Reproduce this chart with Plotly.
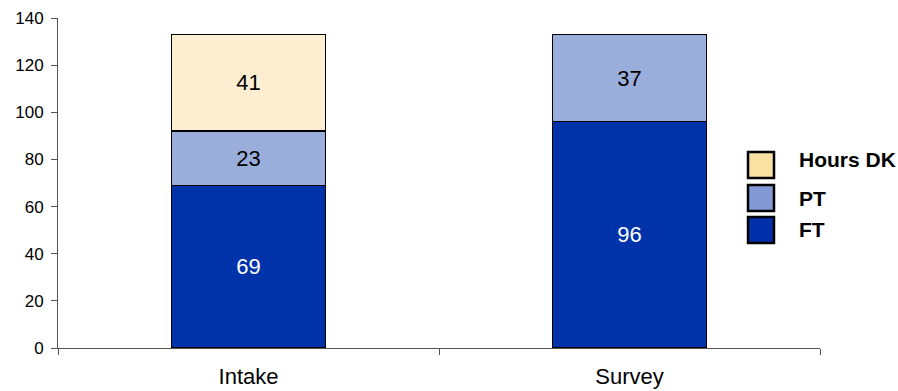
import plotly.graph_objects as go

# Work status counts by source
categories = ["Intake", "Survey"]
ft_values = [69, 96]
pt_values = [23, 37]
hours_dk_values = [41, None]

series = [
    ("FT", ft_values, "#0033aa", "#0030a9", "white"),
    ("PT", pt_values, "#9aaedc", "#8299d6", "black"),
    ("Hours DK", hours_dk_values, "#fdeed2", "#f9e0a3", "black"),
]

FONT = "Liberation Sans, Arial, sans-serif"

# plot area in pixels
L, R, T, B = 58, 820, 18, 348


def px_x(x):
    return (x - L) / (R - L)


def px_y(y):
    return (B - y) / (B - T)


fig = go.Figure()
for name, vals, color, _, txtcolor in series:
    fig.add_trace(go.Bar(
        x=categories,
        y=vals,
        name=name,
        marker=dict(color=color, line=dict(color="black", width=1.5)),
        text=[("" if v is None else str(v)) for v in vals],
        textposition="inside",
        insidetextanchor="middle",
        textfont=dict(family=FONT, size=22, color=txtcolor),
        showlegend=False,
        hoverinfo="skip",
    ))

# Legend drawn as swatches + bold labels, top entry is Hours DK
swatch_tops = [152, 185, 217]
label_centers = [159, 198, 230]
for (name, _, _, swatch, _), y0, yc in zip(reversed(series), swatch_tops, label_centers):
    fig.add_shape(
        type="rect", xref="paper", yref="paper",
        x0=px_x(748), x1=px_x(774),
        y0=px_y(y0 + 26), y1=px_y(y0),
        fillcolor=swatch, line=dict(color="black", width=2.5),
    )
    fig.add_annotation(
        xref="paper", yref="paper",
        x=px_x(797), y=px_y(yc),
        xanchor="left", yanchor="middle",
        text=f"<b>{name}</b>", showarrow=False,
        font=dict(family=FONT, size=21, color="black"),
    )

fig.update_layout(
    barmode="stack",
    bargap=0.596,
    width=898, height=391,
    margin=dict(l=L, r=898 - R, t=T, b=391 - B, autoexpand=False),
    paper_bgcolor="white",
    plot_bgcolor="white",
    font=dict(family=FONT, color="black"),
    uniformtext=dict(minsize=22, mode="show"),
    xaxis=dict(
        type="category",
        range=[-0.5, 1.5],
        tickson="boundaries",
        ticks="outside", ticklen=6, tickcolor="#555",
        showline=True, linecolor="#555", linewidth=1,
        showgrid=False,
        automargin=False,
        tickfont=dict(family=FONT, size=22, color="black"),
        ticklabelstandoff=9,
    ),
    yaxis=dict(
        range=[0, 140], dtick=20,
        ticks="outside", ticklen=6, tickcolor="#555",
        showline=True, linecolor="#555", linewidth=1,
        showgrid=False, zeroline=False,
        automargin=False,
        tickfont=dict(family=FONT, size=17, color="black"),
        ticklabelstandoff=4,
    ),
)

fig.write_html("out.html")
